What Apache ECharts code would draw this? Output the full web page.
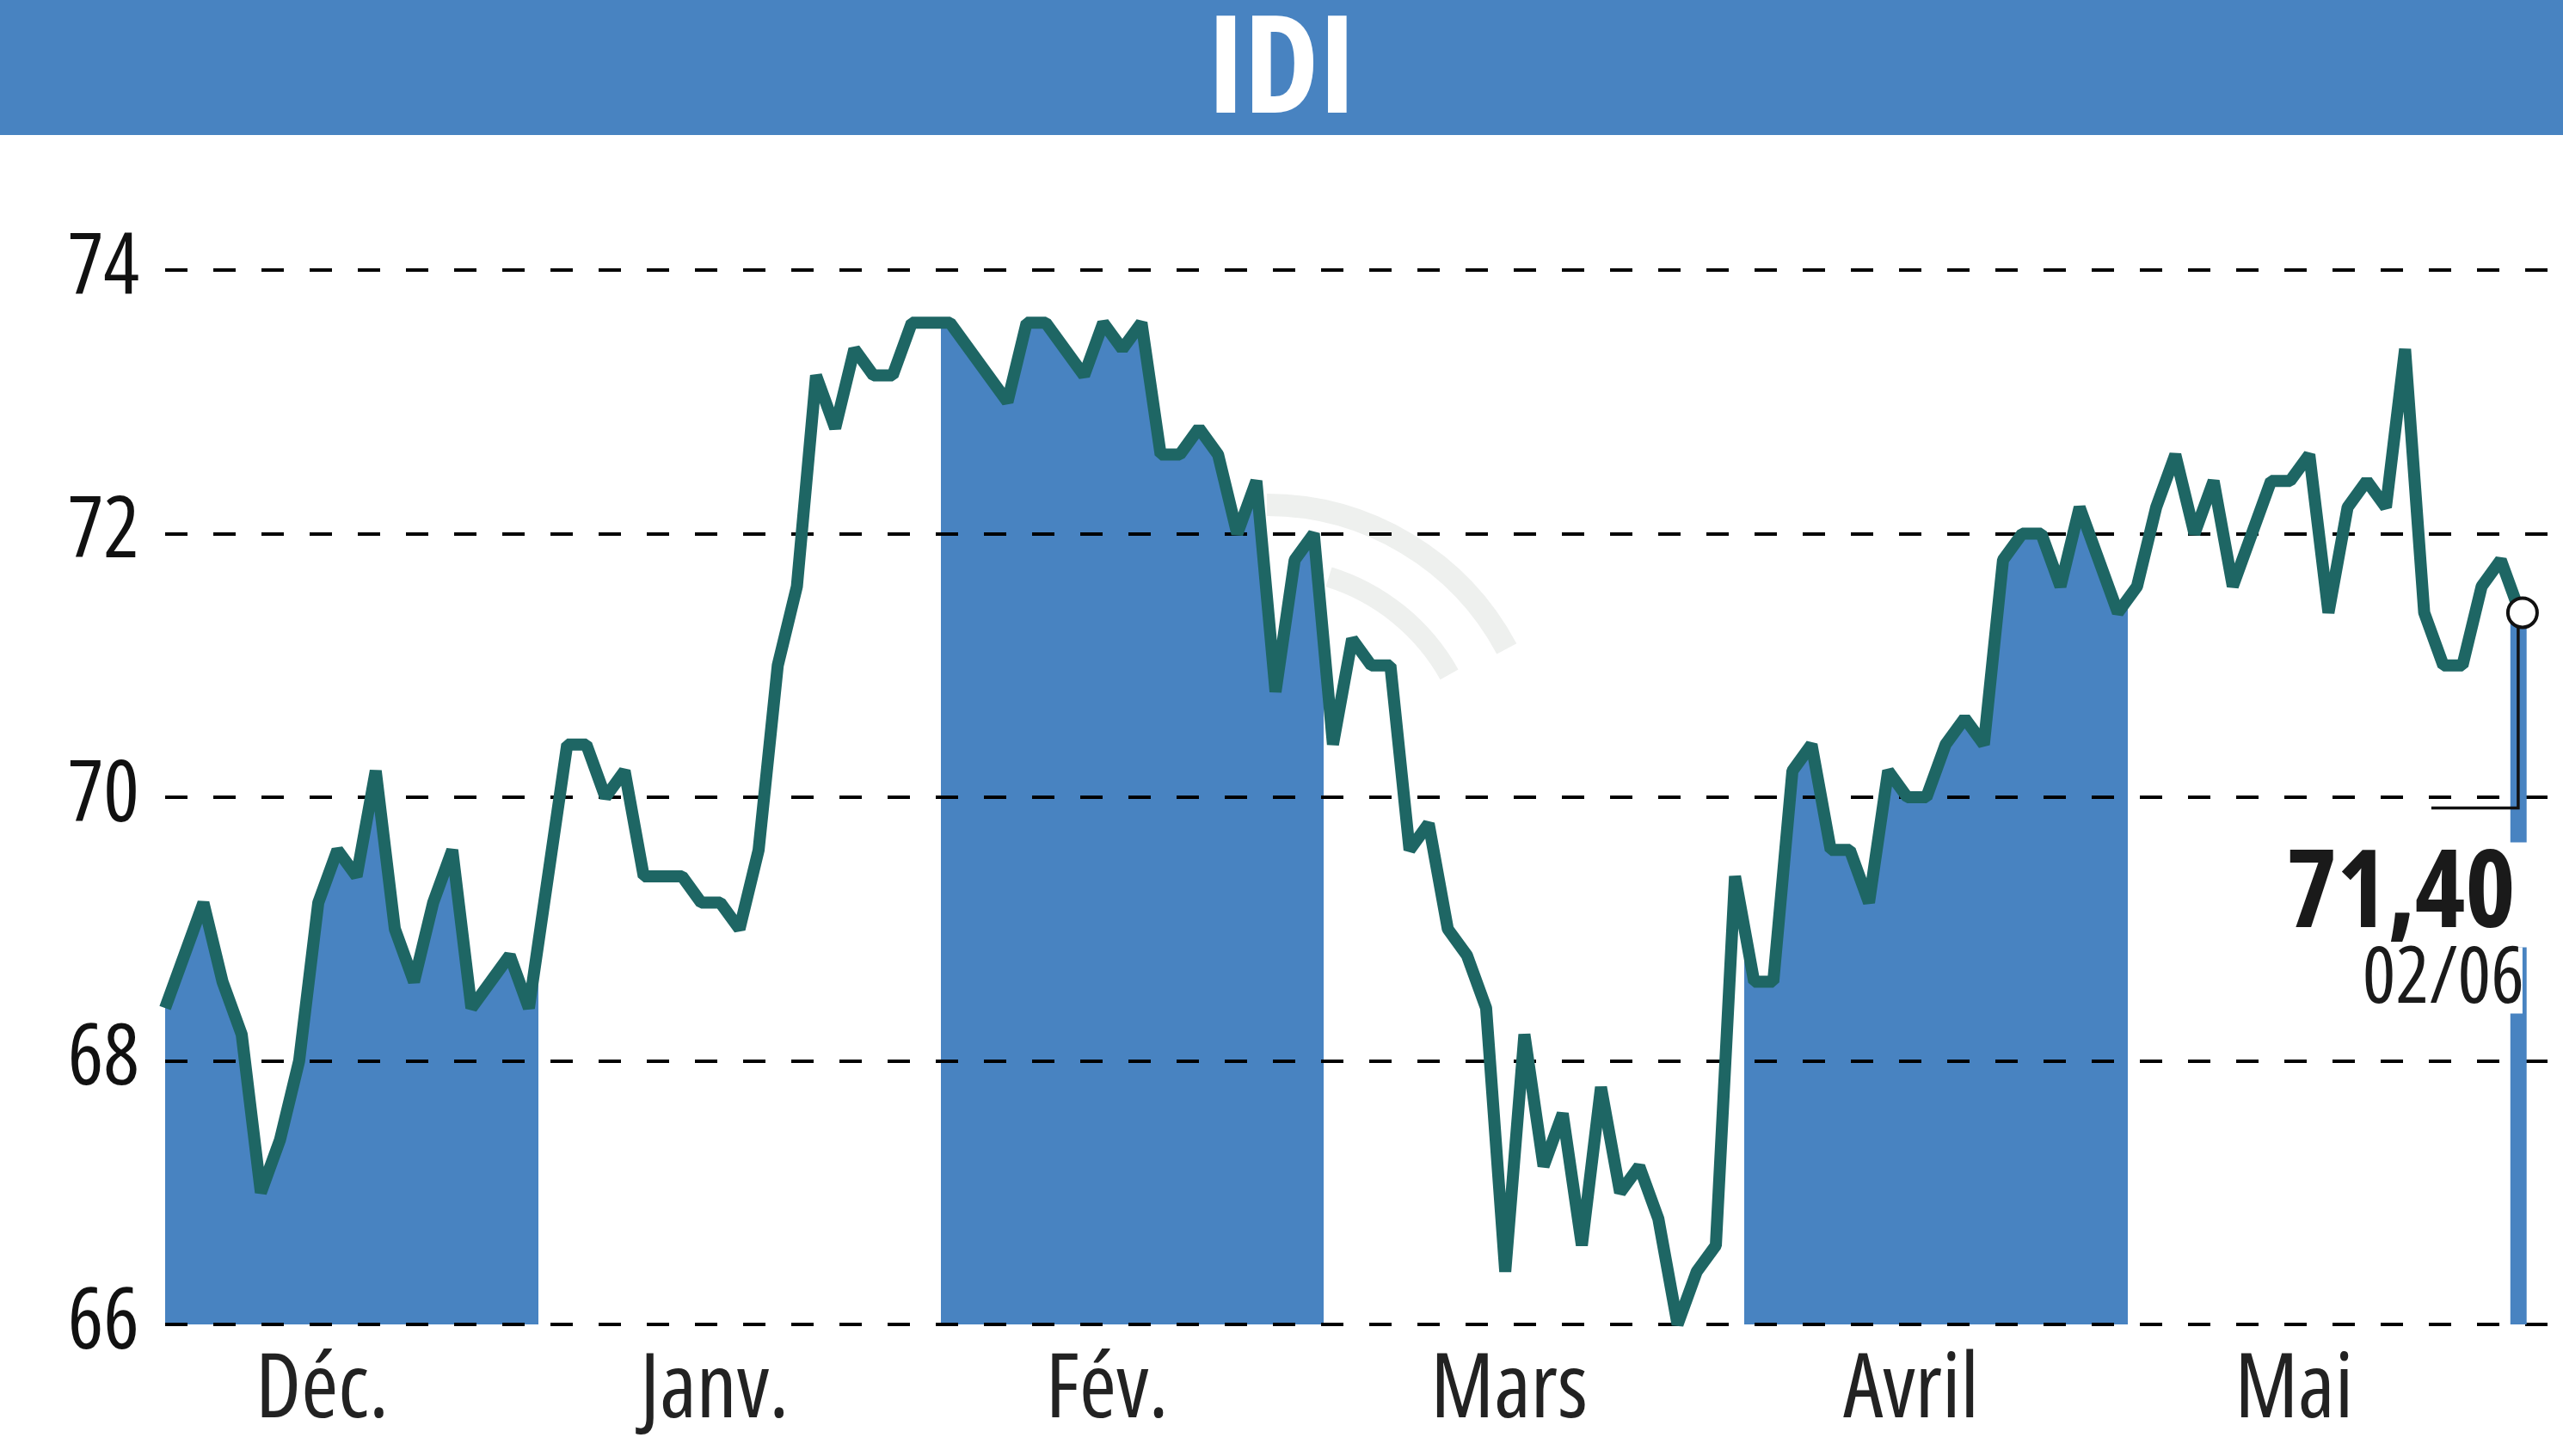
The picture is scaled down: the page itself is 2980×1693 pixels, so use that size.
<!DOCTYPE html>
<html>
<head>
<meta charset="utf-8">
<title>IDI</title>
<script src="https://cdn.jsdelivr.net/npm/echarts@6/dist/echarts.min.js"></script>
<style>
  html, body { margin: 0; padding: 0; background: #fff; }
  #chart { width: 2980px; height: 1693px; }
</style>
</head>
<body>
<div id="chart"></div>
<script>
// jour de bourse (index depuis le 1er décembre) et cours de clôture
var day = [0, 2, 3, 4, 5, 6, 7, 8, 9, 10, 11, 12, 13, 14, 15, 16, 18, 19, 21, 22,
  23, 24, 25, 27, 28, 29, 30, 31, 32, 33, 34, 35, 36, 37, 38, 39, 41, 44, 45, 46,
  48, 49, 50, 51, 52, 53, 54, 55, 56, 57, 58, 59, 60, 61, 62, 63, 64, 65, 66, 67,
  68, 69, 70, 71, 72, 73, 74, 75, 76, 77, 78, 79, 80, 81, 82, 83, 84, 85, 86, 87,
  88, 89, 90, 91, 92, 93, 94, 95, 96, 97, 98, 99, 100, 102, 103, 104, 105, 106, 107, 108,
  110, 111, 112, 113, 114, 115, 116, 117, 118, 119, 120, 121, 122, 123];
var close = [68.4, 69.2, 68.6, 68.2, 67.0, 67.4, 68.0, 69.2, 69.6, 69.4, 70.2, 69.0, 68.6, 69.2, 69.6, 68.4, 68.8, 68.4, 70.4, 70.4,
  70.0, 70.2, 69.4, 69.4, 69.2, 69.2, 69.0, 69.6, 71.0, 71.6, 73.2, 72.8, 73.4, 73.2, 73.2, 73.6, 73.6, 73.0, 73.6, 73.6,
  73.2, 73.6, 73.4, 73.6, 72.6, 72.6, 72.8, 72.6, 72.0, 72.4, 70.8, 71.8, 72.0, 70.4, 71.2, 71.0, 71.0, 69.6, 69.8, 69.0,
  68.8, 68.4, 66.4, 68.2, 67.2, 67.6, 66.6, 67.8, 67.0, 67.2, 66.8, 66.0, 66.4, 66.6, 69.4, 68.6, 68.6, 70.2, 70.4, 69.6,
  69.6, 69.2, 70.2, 70.0, 70.0, 70.4, 70.6, 70.4, 71.8, 72.0, 72.0, 71.6, 72.2, 71.4, 71.6, 72.2, 72.6, 72.0, 72.4, 71.6,
  72.4, 72.4, 72.6, 71.4, 72.2, 72.4, 72.2, 73.4, 71.4, 71.0, 71.0, 71.6, 71.8, 71.4];

var months = ['Déc.', 'Janv.', 'Fév.', 'Mars', 'Avril', 'Mai', 'Juin'];
var monthDays = [20, 21, 20, 22, 20, 20, 1]; // séances par mois
var yTicks = [66, 74, 2]; // min, max, pas
var lastText = '71,40';
var lastDate = '02/06';

var BLUE = '#4883C1';
var LINE = '#1E6664';
var FONT = "'Open Sans'";

var points = day.map(function (d, i) { return [d, close[i]]; });
var last = points[points.length - 1];

// début de chaque mois en index de séance
var monthStart = [];
var acc = 0;
monthDays.forEach(function (n) { monthStart.push(acc); acc += n; });

// un mois sur deux en bleu sous la courbe (le mois en cours à part)
var pieces = [];
monthStart.forEach(function (st, m) {
  if (m % 2 === 0 && m < months.length - 1) {
    pieces.push({ gte: st - 0.5, lt: st + monthDays[m] - 0.5, color: BLUE });
  }
});

// position des noms de mois (un peu avant le milieu)
var labelPos = monthStart.slice(0, 6).map(function (st, m) {
  return st + (monthDays[m] - 1) / 2 - 1.3;
});

var myChart = echarts.init(document.getElementById('chart'));

myChart.setOption({
  animation: false,
  backgroundColor: '#fff',
  grid: { left: 192, right: 0, top: 314, bottom: 153 },
  xAxis: {
    type: 'value',
    min: 0,
    max: 125.25,
    axisLine: { show: false },
    axisTick: { show: false },
    splitLine: { show: false },
    axisLabel: {
      customValues: labelPos,
      margin: 26,
      color: '#222',
      fontSize: 104,
      fontWeight: 'condensed',
      fontFamily: FONT,
      formatter: function (v) {
        for (var i = 0; i < labelPos.length; i++) {
          if (Math.abs(labelPos[i] - v) < 1e-6) return months[i];
        }
        return '';
      }
    }
  },
  yAxis: {
    type: 'value',
    min: yTicks[0],
    max: yTicks[1],
    interval: yTicks[2],
    axisLine: { show: false },
    axisTick: { show: false },
    axisLabel: { margin: 30, color: '#111', fontSize: 98, fontWeight: 'condensed', fontFamily: FONT },
    splitLine: { lineStyle: { color: '#000', width: 4, type: [26, 30] } }
  },
  visualMap: {
    type: 'piecewise',
    show: false,
    dimension: 0,
    seriesIndex: 0,
    pieces: pieces,
    outOfRange: { color: 'rgba(255,255,255,0)' }
  },
  series: [
    {
      // zones bleues
      type: 'line',
      data: points,
      showSymbol: false,
      silent: true,
      z: -1,
      lineStyle: { width: 0, opacity: 0 },
      areaStyle: { origin: 'start', opacity: 1 },
      // barre du mois en cours
      markArea: {
        silent: true,
        itemStyle: { color: BLUE },
        data: [[
          { xAxis: monthStart[monthStart.length - 1] - 0.5, yAxis: yTicks[0] },
          { xAxis: last[0] + 0.35, yAxis: last[1] }
        ]]
      }
    },
    {
      type: 'line',
      data: points,
      showSymbol: false,
      clip: false,
      z: 3,
      lineStyle: { color: LINE, width: 14, join: 'bevel' }
    }
  ]
});

// dernier cours : rond, trait de rappel et étiquette
var P = myChart.convertToPixel({ gridIndex: 0 }, last);

myChart.setOption({
  graphic: [
    { type: 'rect', z: 1, shape: { x: 0, y: 0, width: 2980, height: 157 }, style: { fill: BLUE } },
    {
      type: 'text', z: 2, x: 1490, y: 86,
      style: { text: 'IDI', fill: '#fff', font: 'bold condensed 157px ' + FONT, align: 'center', verticalAlign: 'middle' }
    },
    // filigrane
    {
      type: 'arc', z: -5, silent: true,
      shape: { cx: 1473, cy: 903, r: 316, startAngle: -Math.PI / 2, endAngle: -0.49, clockwise: true },
      style: { stroke: '#EEF0EE', lineWidth: 26, fill: null }
    },
    {
      type: 'arc', z: -5, silent: true,
      shape: { cx: 1473, cy: 903, r: 243, startAngle: -1.27, endAngle: -0.51, clockwise: true },
      style: { stroke: '#EEF0EE', lineWidth: 24, fill: null }
    },
    {
      type: 'polyline', z: 10,
      shape: { points: [[P[0] - 2, P[1]], [P[0] - 2, P[1] + 227], [P[0] - 103, P[1] + 227]] },
      style: { stroke: '#111', lineWidth: 3.5, fill: null }
    },
    { type: 'rect', z: 10, shape: { x: P[0] - 25, y: P[1] + 267, width: 40, height: 122 }, style: { fill: '#fff' } },
    { type: 'rect', z: 10, shape: { x: P[0] - 25, y: P[1] + 389, width: 28, height: 77 }, style: { fill: '#fff' } },
    {
      type: 'circle', z: 12,
      shape: { cx: P[0] + 3, cy: P[1], r: 17 },
      style: { fill: '#fff', stroke: '#111', lineWidth: 4 }
    },
    {
      type: 'text', z: 12, x: P[0] - 5, y: P[1] + 330,
      style: { text: lastText, fill: '#1a1a1a', font: 'bold condensed 125px ' + FONT, align: 'right', verticalAlign: 'middle' }
    },
    {
      type: 'text', z: 12, x: P[0] + 5, y: P[1] + 428,
      style: { text: lastDate, fill: '#1a1a1a', font: 'condensed 91px ' + FONT, align: 'right', verticalAlign: 'middle' }
    }
  ]
});
</script>
</body>
</html>
